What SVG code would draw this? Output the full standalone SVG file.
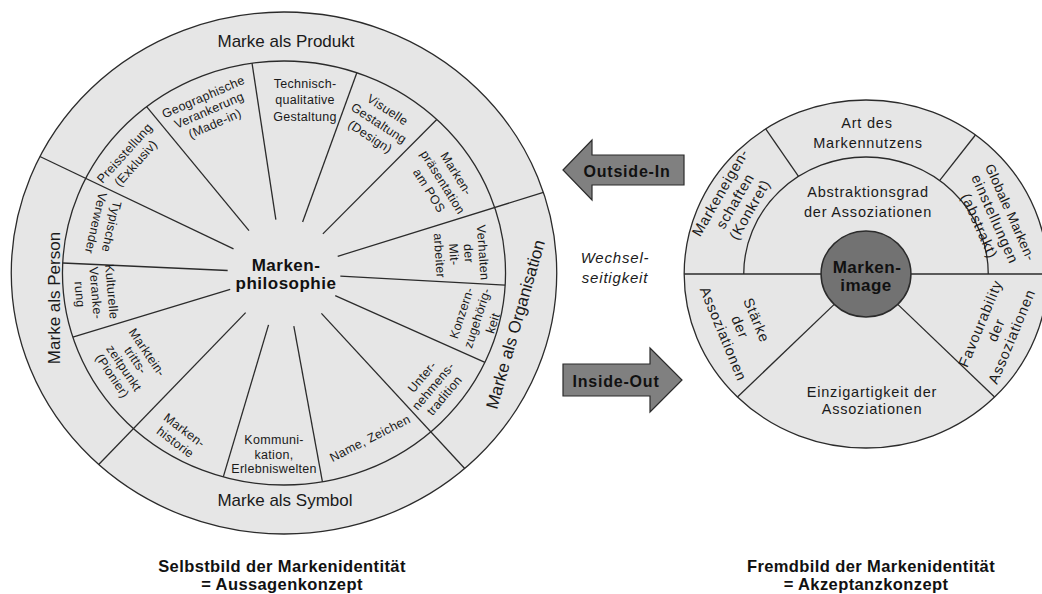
<svg xmlns="http://www.w3.org/2000/svg" width="1042" height="594" viewBox="0 0 1042 594">
<style>
.ring{fill:#e6e6e6;stroke:#2b2b2b;stroke-width:1.3;vector-effect:non-scaling-stroke}
.hub{fill:#727272;stroke:#2b2b2b;stroke-width:1.5;vector-effect:non-scaling-stroke}
.sep{fill:none;stroke:#2b2b2b;stroke-width:1.3;vector-effect:non-scaling-stroke}
.arrow{fill:#808080;stroke:#2b2b2b;stroke-width:1.2}
text{font-family:"Liberation Sans",Arial,sans-serif;fill:#1a1a1a;text-anchor:middle}
.seg{font-size:12.5px;letter-spacing:0.3px}
.seg2{font-size:14.5px;letter-spacing:0.8px}
.ringlbl{font-size:17px}
.hubt{font-size:17px;font-weight:bold;letter-spacing:0.5px;fill:#111}
.arrt{font-size:16px;font-weight:bold;letter-spacing:0.8px;fill:#111}
.cap{font-size:16.5px;font-weight:bold;letter-spacing:0.4px;fill:#111}
.it{font-size:15px;font-style:italic;letter-spacing:0.8px}
</style>

<g id="wheel-left">
  <g transform="translate(284,273) scale(1.045,1)">
    <circle r="261" class="ring"/>
    <circle r="212" class="ring"/>
    <line class="sep" x1="-7.8" y1="-53.4" x2="-30.6" y2="-209.8"/>
    <line class="sep" x1="17.8" y1="-51.0" x2="69.7" y2="-200.2"/>
    <line class="sep" x1="37.2" y1="-39.1" x2="146.2" y2="-153.5"/>
    <line class="sep" x1="51.4" y1="-16.7" x2="248.2" y2="-80.6"/>
    <line class="sep" x1="53.9" y1="3.1" x2="211.6" y2="12.2"/>
    <line class="sep" x1="49.0" y1="22.7" x2="192.3" y2="89.3"/>
    <line class="sep" x1="35.8" y1="40.4" x2="172.9" y2="195.5"/>
    <line class="sep" x1="9.4" y1="53.2" x2="36.8" y2="208.8"/>
    <line class="sep" x1="-14.8" y1="51.9" x2="-58.1" y2="203.9"/>
    <line class="sep" x1="-36.7" y1="39.6" x2="-177.3" y2="191.5"/>
    <line class="sep" x1="-51.5" y1="16.3" x2="-202.1" y2="64.1"/>
    <line class="sep" x1="-53.9" y1="-2.5" x2="-211.8" y2="-10.0"/>
    <line class="sep" x1="-48.3" y1="-24.1" x2="-233.6" y2="-116.5"/>
    <line class="sep" x1="-33.5" y1="-42.3" x2="-131.5" y2="-166.3"/>
  </g>
  <g id="ring-produkt"><text class="ringlbl" x="286" y="47">Marke als Produkt</text></g>
  <g id="ring-symbol"><text class="ringlbl" x="285" y="506">Marke als Symbol</text></g>
  <g id="ring-person"><text class="ringlbl" transform="translate(60,298) rotate(-90)">Marke als Person</text></g>
  <g id="ring-organisation"><text class="ringlbl" transform="translate(521,326) rotate(-74)">Marke als Organisation</text></g>

  <g id="seg-technisch"><text class="seg" transform="translate(305,99.5)"><tspan x="0" y="-12">Technisch-</tspan><tspan x="0" y="4.5">qualitative</tspan><tspan x="0" y="21">Gestaltung</tspan></text></g>
  <g id="seg-visuelle"><text class="seg" transform="translate(379,123) rotate(33)"><tspan x="0" y="-11.5">Visuelle</tspan><tspan x="0" y="4.5">Gestaltung</tspan><tspan x="0" y="20.5">(Design)</tspan></text></g>
  <g id="seg-pos"><text class="seg" transform="translate(443,182) rotate(58)"><tspan x="0" y="-11.5">Marken-</tspan><tspan x="0" y="4.5">präsentation</tspan><tspan x="0" y="20.5">am POS</tspan></text></g>
  <g id="seg-verhalten"><text class="seg" transform="translate(461.5,254) rotate(86)"><tspan x="0" y="-17.3">Verhalten</tspan><tspan x="0" y="-2.8">der</tspan><tspan x="0" y="11.8">Mit-</tspan><tspan x="0" y="26.3">arbeiter</tspan></text></g>
  <g id="seg-konzern"><text class="seg" transform="translate(477,318) rotate(-72)"><tspan x="0" y="-12">Konzern-</tspan><tspan x="0" y="4.5">zugehörig-</tspan><tspan x="0" y="21">keit</tspan></text></g>
  <g id="seg-tradition"><text class="seg" transform="translate(433,386) rotate(-50)"><tspan x="0" y="-10">Unter-</tspan><tspan x="0" y="4.5">nehmens-</tspan><tspan x="0" y="19">tradition</tspan></text></g>
  <g id="seg-name"><text class="seg" transform="translate(370,438) rotate(-27)"><tspan x="0" y="4.5">Name, Zeichen</tspan></text></g>
  <g id="seg-kommunikation"><text class="seg" transform="translate(274,454)"><tspan x="0" y="-10">Kommuni-</tspan><tspan x="0" y="4.5">kation,</tspan><tspan x="0" y="19">Erlebniswelten</tspan></text></g>
  <g id="seg-historie"><text class="seg" transform="translate(180,436) rotate(37)"><tspan x="0" y="-3">Marken-</tspan><tspan x="0" y="12">historie</tspan></text></g>
  <g id="seg-markteintritt"><text class="seg" transform="translate(130,364) rotate(56)"><tspan x="0" y="-16.5">Marktein-</tspan><tspan x="0" y="-2.5">tritts-</tspan><tspan x="0" y="11.5">zeitpunkt</tspan><tspan x="0" y="25.5">(Pionier)</tspan></text></g>
  <g id="seg-kulturelle"><text class="seg" transform="translate(96,293) rotate(85)"><tspan x="0" y="-11.5">Kulturelle</tspan><tspan x="0" y="4.5">Veranke-</tspan><tspan x="0" y="20.5">rung</tspan></text></g>
  <g id="seg-verwender"><text class="seg" transform="translate(104,225) rotate(103)"><tspan x="0" y="-3.5">Typische</tspan><tspan x="0" y="12.5">Verwender</tspan></text></g>
  <g id="seg-preis"><text class="seg" transform="translate(130,158) rotate(-48)"><tspan x="0" y="-3">Preisstellung</tspan><tspan x="0" y="12">(Exklusiv)</tspan></text></g>
  <g id="seg-geographische"><text class="seg" transform="translate(209,110) rotate(-23.5)"><tspan x="0" y="-10">Geographische</tspan><tspan x="0" y="4.5">Verankerung</tspan><tspan x="0" y="19">(Made-in)</tspan></text></g>

  <g id="hub-left"><text class="hubt" x="286" y="271">Marken-</text><text class="hubt" x="286" y="289">philosophie</text></g>
</g>

<g id="wheel-right">
  <g transform="translate(866,274) scale(1.045,1)">
    <circle r="174" class="ring"/>
    <path class="sep" d="M-117 0 A117 117 0 0 1 117 0"/>
    <line class="sep" x1="-174" y1="0" x2="174" y2="0"/>
    <line class="sep" x1="-64.6" y1="-97.6" x2="-96.0" y2="-145.1"/>
    <line class="sep" x1="70.4" y1="-93.4" x2="104.7" y2="-139.0"/>
    <line class="sep" x1="30.4" y1="30.4" x2="123.0" y2="123.0"/>
    <line class="sep" x1="-30.4" y1="30.4" x2="-123.0" y2="123.0"/>
    <circle r="43" class="hub"/>
  </g>
  <g id="seg-nutzen"><text class="seg2" x="867" y="128">Art des</text><text class="seg2" x="868" y="148">Markennutzens</text></g>
  <g id="seg-abstraktion"><text class="seg2" x="868" y="197">Abstraktionsgrad</text><text class="seg2" x="868" y="217">der Assoziationen</text></g>
  <g id="seg-eigenschaften"><text class="seg2" transform="translate(735,201) rotate(-60)"><tspan x="0" y="-12">Markeneigen-</tspan><tspan x="0" y="5">schaften</tspan><tspan x="0" y="22">(Konkret)</tspan></text></g>
  <g id="seg-einstellungen"><text class="seg2" transform="translate(995,219) rotate(66)"><tspan x="0" y="-12" style="font-size:13.5px;letter-spacing:0.3px">Globale Marken-</tspan><tspan x="0" y="5">einstellungen</tspan><tspan x="0" y="22">(abstrakt)</tspan></text></g>
  <g id="seg-staerke"><text class="seg2" transform="translate(740,327) rotate(67.5)"><tspan x="0" y="-13">Stärke</tspan><tspan x="0" y="5">der</tspan><tspan x="0" y="23">Assoziationen</tspan></text></g>
  <g id="seg-favourability"><text class="seg2" transform="translate(996,330) rotate(-67.5)"><tspan x="0" y="-12">Favourability</tspan><tspan x="0" y="5">der</tspan><tspan x="0" y="22">Assoziationen</tspan></text></g>
  <g id="seg-einzigartigkeit"><text class="seg2" x="872" y="397">Einzigartigkeit der</text><text class="seg2" x="872" y="414">Assoziationen</text></g>
  <g id="hub-right"><text class="hubt" x="867" y="273">Marken-</text><text class="hubt" x="866" y="291">image</text></g>
</g>

<g id="connectors">
  <g id="arrow-outside-in">
    <polygon class="arrow" points="563,170 592,140 592,155 684,155 684,185 592,185 592,200"/>
    <text class="arrt" x="627" y="177">Outside-In</text>
  </g>
  <g id="arrow-inside-out">
    <polygon class="arrow" points="563,364 650,364 650,348 682,380 650,412 650,396 563,396"/>
    <text class="arrt" x="616" y="387">Inside-Out</text>
  </g>
</g>

<g id="wechsel"><text class="it" x="615" y="263">Wechsel-</text><text class="it" x="615" y="283">seitigkeit</text></g>

<g id="caption-left"><text class="cap" x="282" y="572">Selbstbild der Markenidentität</text><text class="cap" x="282" y="590">= Aussagenkonzept</text></g>
<g id="caption-right"><text class="cap" x="871" y="572">Fremdbild der Markenidentität</text><text class="cap" x="866" y="590">= Akzeptanzkonzept</text></g>
</svg>
